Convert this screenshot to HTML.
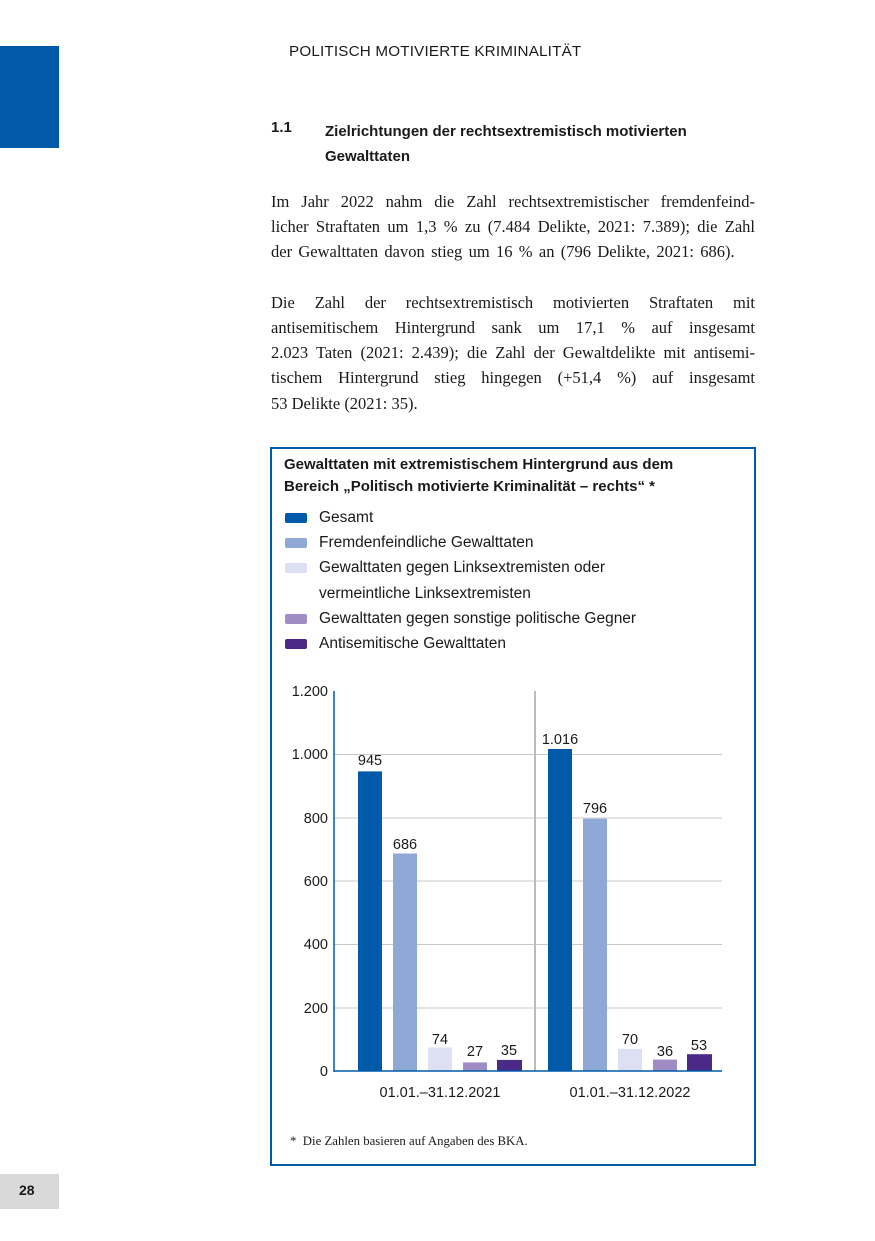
<!DOCTYPE html>
<html><head><meta charset="utf-8"><style>
body{margin:0;width:875px;height:1241px;position:relative;background:#fff;font-family:"Liberation Sans",sans-serif;color:#1a1a1a;overflow:hidden}
.a{position:absolute;white-space:nowrap}
.j{position:absolute;left:271px;width:484px;text-align:justify;text-align-last:justify;font-family:"Liberation Serif",serif;font-size:16.5px;white-space:nowrap}
.l{position:absolute;left:271px;font-family:"Liberation Serif",serif;font-size:16.5px;white-space:nowrap}
.sw{position:absolute;left:285px;width:22px;height:10px;border-radius:2px}
.lt{position:absolute;left:319px;font-size:15.5px}
</style></head><body>
<div class="a" style="left:0;top:46px;width:59px;height:102px;background:#005aa9"></div>
<div class="a" style="left:289px;top:43px;font-size:15.2px;letter-spacing:0.2px">POLITISCH MOTIVIERTE KRIMINALITÄT</div>
<div class="a" style="left:271px;top:119px;font-size:15px;font-weight:bold">1.1</div>
<div class="a" style="left:325px;top:119px;font-size:15px;font-weight:bold;line-height:25px">Zielrichtungen der rechtsextremistisch motivierten<br>Gewalttaten</div>
<div class="j" style="top:192px">Im Jahr 2022 nahm die Zahl rechtsextremistischer fremdenfeind-</div>
<div class="j" style="top:217px">licher Straftaten um 1,3 % zu (7.484 Delikte, 2021: 7.389); die Zahl</div>
<div class="l" style="top:242px;word-spacing:2.2px">der Gewalttaten davon stieg um 16 % an (796 Delikte, 2021: 686).</div>
<div class="j" style="top:293px">Die Zahl der rechtsextremistisch motivierten Straftaten mit</div>
<div class="j" style="top:318px">antisemitischem Hintergrund sank um 17,1 % auf insgesamt</div>
<div class="j" style="top:343px">2.023 Taten (2021: 2.439); die Zahl der Gewaltdelikte mit antisemi-</div>
<div class="j" style="top:368px">tischem Hintergrund stieg hingegen (+51,4 %) auf insgesamt</div>
<div class="l" style="top:394px">53 Delikte (2021: 35).</div>
<div class="a" style="left:270px;top:447px;width:482px;height:715px;border:2px solid #005aa9"></div>
<div class="a" style="left:284px;top:454px;font-size:15px;font-weight:bold;line-height:22px">Gewalttaten mit extremistischem Hintergrund aus dem<br>Bereich „Politisch motivierte Kriminalität – rechts“ *</div>
<div class="sw" style="top:513px;background:#005aa9"></div><div class="lt a" style="top:509px">Gesamt</div>
<div class="sw" style="top:538px;background:#8fa8d6"></div><div class="lt a" style="top:534px">Fremdenfeindliche Gewalttaten</div>
<div class="sw" style="top:563px;background:#dde0f2"></div><div class="lt a" style="top:559px">Gewalttaten gegen Linksextremisten oder</div>
<div class="lt a" style="top:585px">vermeintliche Linksextremisten</div>
<div class="sw" style="top:614px;background:#a08cc4"></div><div class="lt a" style="top:610px">Gewalttaten gegen sonstige politische Gegner</div>
<div class="sw" style="top:639px;background:#4a2a86"></div><div class="lt a" style="top:635px">Antisemitische Gewalttaten</div>
<svg class="a" style="left:0;top:0" width="875" height="1241">
<g stroke="#c8c8c8" stroke-width="1">
<line x1="334" x2="722" y1="754.5" y2="754.5"/><line x1="334" x2="722" y1="818" y2="818"/><line x1="334" x2="722" y1="881" y2="881"/><line x1="334" x2="722" y1="944.5" y2="944.5"/><line x1="334" x2="722" y1="1008" y2="1008"/>
</g>
<line x1="535" x2="535" y1="691" y2="1071" stroke="#bbb" stroke-width="2"/>
<g font-family="Liberation Sans" font-size="14.5" fill="#1a1a1a" text-anchor="end">
<text x="328" y="696">1.200</text><text x="328" y="759">1.000</text><text x="328" y="823">800</text><text x="328" y="886">600</text><text x="328" y="949">400</text><text x="328" y="1013">200</text><text x="328" y="1076">0</text>
</g>
<g>
<rect x="358" y="771.4" width="24" height="299.6" fill="#005aa9"/>
<rect x="393" y="853.5" width="24" height="217.5" fill="#8fa8d6"/>
<rect x="428" y="1047.5" width="24" height="23.5" fill="#dde0f2"/>
<rect x="463" y="1062.4" width="24" height="8.6" fill="#a08cc4"/>
<rect x="497" y="1059.9" width="25" height="11.1" fill="#4a2a86"/>
<rect x="548" y="749" width="24" height="322" fill="#005aa9"/>
<rect x="583" y="818.7" width="24" height="252.3" fill="#8fa8d6"/>
<rect x="618" y="1048.8" width="24" height="22.2" fill="#dde0f2"/>
<rect x="653" y="1059.6" width="24" height="11.4" fill="#a08cc4"/>
<rect x="687" y="1054.2" width="25" height="16.8" fill="#4a2a86"/>
</g>
<line x1="334" x2="334" y1="691" y2="1072" stroke="#005aa9" stroke-width="1.5"/>
<line x1="334" x2="722" y1="1071" y2="1071" stroke="#005aa9" stroke-width="1.5"/>
<g font-family="Liberation Sans" font-size="14.5" fill="#1a1a1a" text-anchor="middle">
<text x="370" y="765">945</text><text x="405" y="849">686</text><text x="440" y="1044">74</text><text x="475" y="1056">27</text><text x="509" y="1055">35</text>
<text x="560" y="744">1.016</text><text x="595" y="813">796</text><text x="630" y="1044">70</text><text x="665" y="1056">36</text><text x="699" y="1050">53</text>
<text x="440" y="1097">01.01.–31.12.2021</text><text x="630" y="1097">01.01.–31.12.2022</text>
</g>
</svg>
<div class="a" style="left:290px;top:1134px;font-family:'Liberation Serif',serif;font-size:12.8px">*&nbsp; Die Zahlen basieren auf Angaben des BKA.</div>
<div class="a" style="left:0;top:1174px;width:59px;height:35px;background:#d9d9d9"></div>
<div class="a" style="left:19px;top:1182px;font-size:14px;font-weight:bold">28</div>
</body></html>
